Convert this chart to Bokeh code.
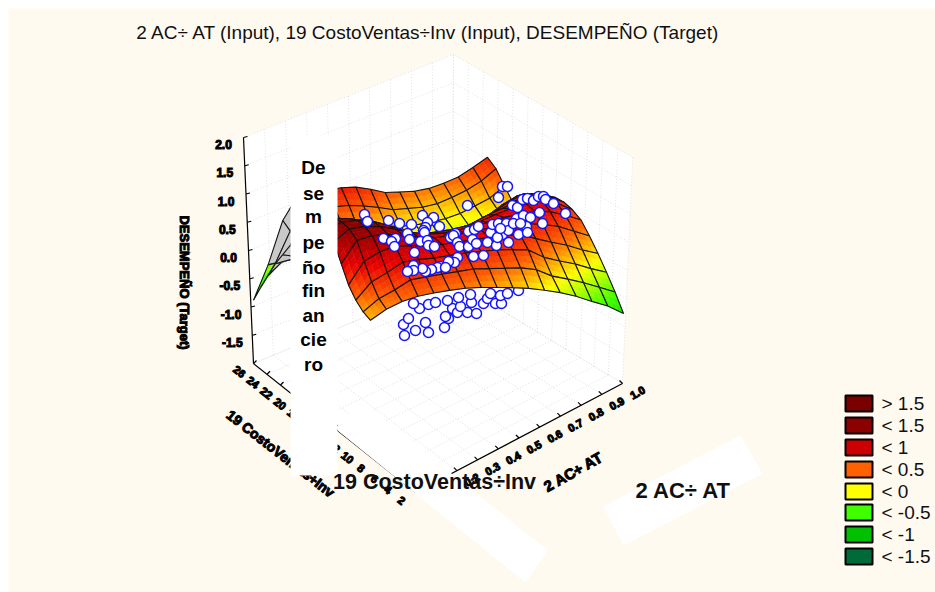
import math
from bokeh.plotting import figure
from bokeh.models import ColumnDataSource, Range1d
from bokeh.embed import file_html
from bokeh.resources import INLINE
from bokeh.core.properties import value

FONT = "Liberation Sans"
BG = "#fffaf0"

title_text = "2 AC\u00f7 AT (Input), 19 CostoVentas\u00f7Inv (Input), DESEMPE\u00d1O (Target)"
z_title = "DESEMPE\u00d1O (Target)"
left_title = "19 CostoVentas\u00f7Inv"
right_title = "2 AC\u00f7 AT"
z_ticks = [2.0, 1.5, 1.0, 0.5, 0.0, -0.5, -1.0, -1.5]
left_ticks = [26, 24, 22, 20, 18, 16, 14, 12, 10, 8, 6, 4, 2]
right_ticks = [0.2, 0.3, 0.4, 0.5, 0.6, 0.7, 0.8, 0.9, 1.0]
side_words = ["De", "se", "m", "pe", "\u00f1o", "fin", "an", "cie", "ro"]
side_rows = [167, 193, 216, 242, 267, 290, 315, 339, 364]

legend_labels = ["> 1.5", "< 1.5", "< 1", "< 0.5", "< 0", "< -0.5", "< -1", "< -1.5"]
legend_colors = ["#7a0000", "#8b0000", "#cc0000", "#ff6000", "#ffff00", "#40ff00", "#00c000", "#006a38"]
legend_rows = [403, 425, 447, 469, 491, 512, 534, 556]

color_levels = [-1.5, -1.0, -0.5, 0.0, 0.45, 0.85, 1.3, 2.0]
color_stops = ["#006a38", "#00c000", "#40ff00", "#ffff00", "#ff6000", "#e80000", "#900000", "#7a0000"]

# height of the fitted surface, one list per node along the 2 AC/AT side
Z = [
 [-.75,-.45,-.18,.07,.3,.5,.6,.65,.65,.6,.53,.46,.3,.14,.35,.58,.70],
 [-.55,-.3,-.05,.2,.45,.65,.78,.82,.78,.68,.52,.32,.12,.06,.2,.42,.58],
 [-.4,-.15,.1,.35,.6,.78,.9,.92,.85,.72,.52,.3,.06,-.02,.12,.32,.47],
 [-.24,-.02,.22,.47,.7,.85,.9,.88,.78,.62,.42,.2,0,-.07,.05,.25,.42],
 [-.11,.1,.35,.6,.78,.87,.88,.8,.66,.48,.28,.08,-.08,-.1,.02,.2,.39],
 [0,.28,.55,.74,.84,.87,.84,.74,.58,.4,.2,.02,-.1,-.11,.02,.2,.4],
 [.1,.38,.62,.78,.85,.85,.78,.66,.5,.32,.14,-.02,-.11,-.1,.03,.24,.45],
 [.18,.44,.68,.82,.87,.84,.76,.62,.46,.28,.1,-.03,-.1,-.08,.07,.28,.5],
 [.25,.5,.72,.84,.88,.84,.76,.62,.46,.28,.12,0,-.07,-.04,.13,.38,.62],
 [.32,.56,.76,.87,.9,.85,.78,.64,.48,.3,.14,.03,-.02,.02,.2,.47,.72],
 [.37,.58,.78,.89,.92,.9,.82,.68,.52,.36,.2,.09,.05,.1,.28,.54,.77],
 [.4,.6,.8,.94,1.0,1.0,.94,.8,.62,.44,.28,.17,.12,.17,.34,.58,.78],
 [.42,.62,.84,1.0,1.09,1.12,1.1,.98,.8,.6,.42,.28,.2,.24,.38,.6,.8],
 [.43,.63,.86,1.06,1.18,1.23,1.24,1.16,.98,.76,.55,.38,.25,.26,.38,.6,.8],
 [.4,.52,.74,1.02,1.22,1.3,1.32,1.26,1.1,.88,.66,.42,.22,.18,.22,.33,.43],
 [.33,.43,.64,.92,1.2,1.32,1.35,1.33,1.2,1.0,.78,.46,.2,.06,-.05,-.18,-.3],
 [.2,.26,.38,.56,.85,1.15,1.3,1.35,1.3,1.15,.95,.55,.3,.05,-.25,-.55,-.87],
]
# first cells (side indices) where the underside of the sheet faces the viewer
UNDERSIDE_FROM_I, UNDERSIDE_FROM_J = 12, 10

# observations as they fall on the projected picture
front_x = [364,367,388,399,411,422,433,427,439,425,423,407,424,383,395,391,394,409,420,414,427,428,434,450,455,453,457,459,468,468,474,478,472,476,487,496,508,490,492,498,506,502,508,518,516,523,530,526,527,539,542,512,517,522,527,533,538,543,545,553,565,498,467,502,507,473,483,457,454,448,440,437,431,425,422,413,413,407,445,497,500,513,520]
front_y = [214,221,220,223,224,215,217,222,226,227,230,233,232,238,238,241,246,239,241,252,240,245,246,237,233,235,242,246,246,231,229,226,239,243,242,245,242,232,224,223,223,234,230,234,218,215,217,226,232,212,223,205,207,199,198,200,196,196,199,203,213,197,205,186,186,256,255,257,262,261,266,267,269,271,268,265,270,271,267,237,228,223,223]
behind_x = [404,415,428,444,403,408,425,448,445,452,457,467,476,419,428,435,447,460,471,483,487,495,501,500,490,507,518,470,458,413]
behind_y = [335,330,332,327,324,318,322,318,316,308,312,312,313,308,304,302,300,306,302,303,298,303,303,295,293,293,290,294,297,303]

# projection of the box
FLOOR_L, FLOOR_F, FLOOR_B, FLOOR_R = (253, 363), (415, 492), (452, 280), (622, 383)
BOX_H = 226.0
# projection of the surface nodes
S_R, S_F, S_B, S_L = (623, 383), (370, 443), (487, 308), (253, 363)
S_UNIT = 56.0

def floor(q, r):
    x = (1-q)*(1-r)*FLOOR_L[0] + q*(1-r)*FLOOR_F[0] + (1-q)*r*FLOOR_B[0] + q*r*FLOOR_R[0]
    y = (1-q)*(1-r)*FLOOR_L[1] + q*(1-r)*FLOOR_F[1] + (1-q)*r*FLOOR_B[1] + q*r*FLOOR_R[1]
    return x, y

def box(q, r, z):
    x, y = floor(q, r)
    f = (z + 2.0) / 4.0
    return x + (x - 435) * 0.055 * f, y - BOX_H * f

def surf(s, t, z):
    x = (1-s)*(1-t)*S_R[0] + s*(1-t)*S_F[0] + (1-s)*t*S_B[0] + s*t*S_L[0]
    y = (1-s)*(1-t)*S_R[1] + s*(1-t)*S_F[1] + (1-s)*t*S_B[1] + s*t*S_L[1]
    return x, y - (z + 2.0) * S_UNIT

def hex2rgb(h):
    return [int(h[i:i+2], 16) for i in (1, 3, 5)]

def z_color(z):
    if z <= color_levels[0]:
        return color_stops[0]
    for k in range(len(color_levels)-1):
        if z <= color_levels[k+1]:
            a = (z-color_levels[k])/(color_levels[k+1]-color_levels[k])
            c0, c1 = hex2rgb(color_stops[k]), hex2rgb(color_stops[k+1])
            return "#%02x%02x%02x" % tuple(int(round(c0[m]+(c1[m]-c0[m])*a)) for m in range(3))
    return color_stops[-1]

p = figure(width=935, height=592, x_range=Range1d(8, 935), y_range=Range1d(592, 8),
           output_backend="svg", toolbar_location=None,
           min_border_left=8, min_border_top=8, min_border_right=0, min_border_bottom=0,
           background_fill_color=BG, border_fill_color="white")
p.axis.visible = False
p.grid.visible = False
p.outline_line_color = None

# walls and floor
wall_pts = [box(0,0,2), box(0,1,2), box(1,1,2), box(1,1,-2), box(1,0,-2), box(0,0,-2)]
p.patch([a for a, b in wall_pts], [b for a, b in wall_pts], fill_color="white", line_color=None)

GRID = "#e2e2e2"
gx, gy = [], []
for n in range(0, 11):
    r = n/10
    a, b, c = box(0, r, -2), box(0, r, 2), box(1, r, -2)
    gx += [[a[0], b[0]], [a[0], c[0]]]
    gy += [[a[1], b[1]], [a[1], c[1]]]
for n in range(0, 13):
    q = n/12
    a, b, c = box(q, 1, -2), box(q, 1, 2), box(q, 0, -2)
    gx += [[a[0], b[0]], [a[0], c[0]]]
    gy += [[a[1], b[1]], [a[1], c[1]]]
for n in range(0, 9):
    z = -2 + n*0.5
    a, b, c = box(0, 0, z), box(0, 1, z), box(1, 1, z)
    gx += [[a[0], b[0], c[0]]]
    gy += [[a[1], b[1], c[1]]]
p.multi_line(gx, gy, line_color=GRID, line_width=1, line_dash="1 2")

# axis lines and ticks
ax = [[box(0,0,-2)[0], box(0,0,2)[0]], [box(0,0,-2)[0], box(1,0,-2)[0]], [box(1,0,-2)[0], box(1,1,-2)[0]]]
ay = [[box(0,0,-2)[1], box(0,0,2)[1]], [box(0,0,-2)[1], box(1,0,-2)[1]], [box(1,0,-2)[1], box(1,1,-2)[1]]]
for z in z_ticks:
    a = box(0, 0, z)
    ax.append([a[0], a[0]+4]); ay.append([a[1], a[1]-1])
for v in left_ticks:
    a = box((26-v)/24, 0, -2)
    ax.append([a[0], a[0]+3]); ay.append([a[1], a[1]-3])
for v in right_ticks:
    a = box(1, v, -2)
    ax.append([a[0], a[0]-3]); ay.append([a[1], a[1]-3])
p.multi_line(ax, ay, line_color="black", line_width=1.2)

# white patches behind the axis titles
p.patch([337, 525, 547, 360], [430, 582, 550, 400], fill_color="white", line_color=None)
p.patch([740, 762, 623, 603], [435, 473, 545, 506], fill_color="white", line_color=None)

def blob(xs, ys, texts, size, angle):
    p.text(xs, ys, text=texts, text_font=value(FONT), text_font_size=size, text_font_style="bold",
           text_color="black", text_outline_color="black", text_align="center", text_baseline="middle", angle=angle)

zt = [box(0, 0, z) for z in z_ticks]
blob([a[0]-20 for a in zt], [a[1]+7 for a in zt], [f"{z:.1f}" for z in z_ticks], "12px", 0)
lt = [box((26-v)/24, 0, -2) for v in left_ticks]
blob([a[0]-14 for a in lt], [a[1]+8 for a in lt], [str(v) for v in left_ticks], "11px", -0.65)
rt = [box(1, v, -2) for v in right_ticks]
blob([a[0]+15 for a in rt], [a[1]+9 for a in rt], [f"{v:.1f}" for v in right_ticks], "11px", 0.5)
blob([184], [282], [z_title], "13px", -math.pi/2)
blob([280], [453], [left_title], "14px", -0.66)
blob([573], [471], [right_title], "15px", 0.51)

# observations hidden by the surface
p.scatter(behind_x, behind_y, size=10, marker="circle", fill_color="white", line_color="#1414ff", line_width=1.5)

# surface, far quads first
N = len(Z) - 1
M = len(Z[0]) - 1
SUB = 3
xs, ys, fc, fa, lc, lw = [], [], [], [], [], []
cells = sorted(((i, j) for i in range(N) for j in range(M)), key=lambda c: c[0]-c[1])
for i, j in cells:
    z00, z10, z01, z11 = Z[i][j], Z[i+1][j], Z[i][j+1], Z[i+1][j+1]
    def node(a, b):
        z = (1-a)*(1-b)*z00 + a*(1-b)*z10 + (1-a)*b*z01 + a*b*z11
        return surf((i+a)/N, (j+b)/M, z), z
    c = [node(0, 0)[0], node(1, 0)[0], node(1, 1)[0], node(0, 1)[0]]
    area = sum(c[k][0]*c[(k+1) % 4][1] - c[(k+1) % 4][0]*c[k][1] for k in range(4))
    tip = i >= N-1 and j >= M-2
    underside = area < 0 or (i >= UNDERSIDE_FROM_I and j >= UNDERSIDE_FROM_J and not tip)
    for u in range(SUB):
        for w in range(SUB):
            pts = [node(u/SUB, w/SUB), node((u+1)/SUB, w/SUB), node((u+1)/SUB, (w+1)/SUB), node(u/SUB, (w+1)/SUB)]
            col = "#c8c8c8" if underside else z_color(sum(q[1] for q in pts)/4)
            xs.append([q[0][0] for q in pts]); ys.append([q[0][1] for q in pts])
            fc.append(col); fa.append(1.0); lc.append(col); lw.append(0.5)
    xs.append([q[0] for q in c]); ys.append([q[1] for q in c])
    fc.append("#000000"); fa.append(0.0); lc.append("#141414"); lw.append(1.1)
src = ColumnDataSource(dict(xs=xs, ys=ys, fc=fc, fa=fa, lc=lc, lw=lw))
p.patches("xs", "ys", source=src, fill_color="fc", fill_alpha="fa", line_color="lc", line_width="lw")

# observations in front of the surface
p.scatter(front_x, front_y, size=10, marker="circle", fill_color="white", line_color="#1414ff", line_width=1.5)

# vertical axis title on its white box
p.quad(left=[290], right=[337], top=[135], bottom=[475], fill_color="white", line_color=None)
p.text([313]*len(side_words), side_rows, text=side_words, text_font=value(FONT), text_font_size="19px",
       text_font_style="bold", text_color="black", text_align="center", text_baseline="middle")

p.text([428], [32], text=[title_text], text_font=value(FONT), text_font_size="19px", text_color="#101010",
       text_align="center", text_baseline="middle")
p.text([434], [481], text=[left_title], text_font=value(FONT), text_font_size="21.5px", text_font_style="bold",
       text_color="#101010", text_align="center", text_baseline="middle")
p.text([683], [490], text=[right_title], text_font=value(FONT), text_font_size="22px", text_font_style="bold",
       text_color="#101010", text_align="center", text_baseline="middle")

# legend
p.quad(left=[845]*8, right=[872]*8, top=[y-8 for y in legend_rows], bottom=[y+8 for y in legend_rows],
       fill_color=legend_colors, line_color="black", line_width=2)
p.text([881]*8, legend_rows, text=legend_labels, text_font=value(FONT), text_font_size="19px", text_color="#101010",
       text_align="left", text_baseline="middle")

open("out.html", "w").write(file_html(p, INLINE))
